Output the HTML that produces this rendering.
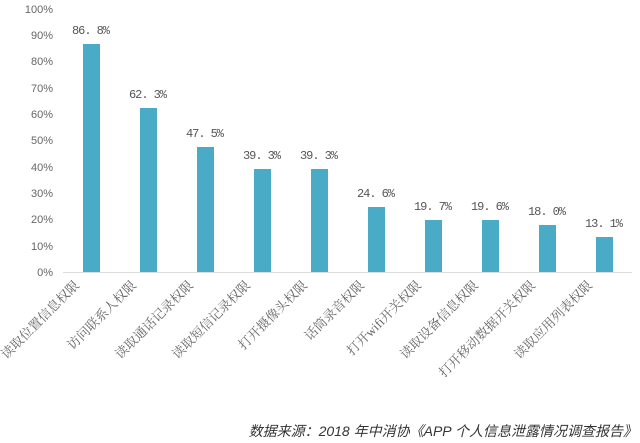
<!DOCTYPE html>
<html><head><meta charset="utf-8"><style>
body{margin:0;background:#fff;}
svg{display:block;}
</style></head><body>
<svg width="640" height="443" xmlns="http://www.w3.org/2000/svg">
<g font-family="Liberation Sans, Noto Sans CJK SC, sans-serif" font-size="11" fill="#666" text-anchor="end">
<text x="53" y="276">0%</text>
<text x="53" y="250">10%</text>
<text x="53" y="223">20%</text>
<text x="53" y="197">30%</text>
<text x="53" y="171">40%</text>
<text x="53" y="144">50%</text>
<text x="53" y="118">60%</text>
<text x="53" y="92">70%</text>
<text x="53" y="65">80%</text>
<text x="53" y="39">90%</text>
<text x="53" y="13">100%</text>
</g>
<line x1="63" y1="272.5" x2="632" y2="272.5" stroke="#ddd" stroke-width="1"/>
<g fill="#4aabc6">
<rect x="83" y="44" width="17" height="228"/>
<rect x="140" y="108" width="17" height="164"/>
<rect x="197" y="147" width="17" height="125"/>
<rect x="254" y="169" width="17" height="103"/>
<rect x="311" y="169" width="17" height="103"/>
<rect x="368" y="207" width="17" height="65"/>
<rect x="425" y="220" width="17" height="52"/>
<rect x="482" y="220" width="17" height="52"/>
<rect x="539" y="225" width="17" height="47"/>
<rect x="596" y="237" width="17" height="35"/>
</g>
<g font-family="Liberation Mono, monospace" font-size="12" fill="#555" text-anchor="middle">
<text x="91" y="34" textLength="38">86. 8%</text>
<text x="148" y="98" textLength="38">62. 3%</text>
<text x="205" y="137" textLength="38">47. 5%</text>
<text x="262" y="159" textLength="38">39. 3%</text>
<text x="319" y="159" textLength="38">39. 3%</text>
<text x="376" y="197" textLength="38">24. 6%</text>
<text x="433" y="210" textLength="38">19. 7%</text>
<text x="490" y="210" textLength="38">19. 6%</text>
<text x="547" y="215" textLength="38">18. 0%</text>
<text x="604" y="227" textLength="38">13. 1%</text>
</g>
<g font-family="Liberation Serif, Noto Serif CJK SC, serif" font-size="13" fill="#666" text-anchor="end">
<text transform="translate(80,286) rotate(-45)">读取位置信息权限</text>
<text transform="translate(137,286) rotate(-45)">访问联系人权限</text>
<text transform="translate(194,286) rotate(-45)">读取通话记录权限</text>
<text transform="translate(251,286) rotate(-45)">读取短信记录权限</text>
<text transform="translate(308,286) rotate(-45)">打开摄像头权限</text>
<text transform="translate(365,286) rotate(-45)">话筒录音权限</text>
<text transform="translate(422,286) rotate(-45)">打开wifi开关权限</text>
<text transform="translate(479,286) rotate(-45)">读取设备信息权限</text>
<text transform="translate(536,286) rotate(-45)">打开移动数据开关权限</text>
<text transform="translate(593,286) rotate(-45)">读取应用列表权限</text>
</g>
<text x="637" y="436" text-anchor="end" font-family="Liberation Sans, Noto Sans CJK SC, sans-serif" font-size="14" font-style="italic" fill="#333">数据来源：2018 年中消协《APP 个人信息泄露情况调查报告》</text>
</svg>
</body></html>
